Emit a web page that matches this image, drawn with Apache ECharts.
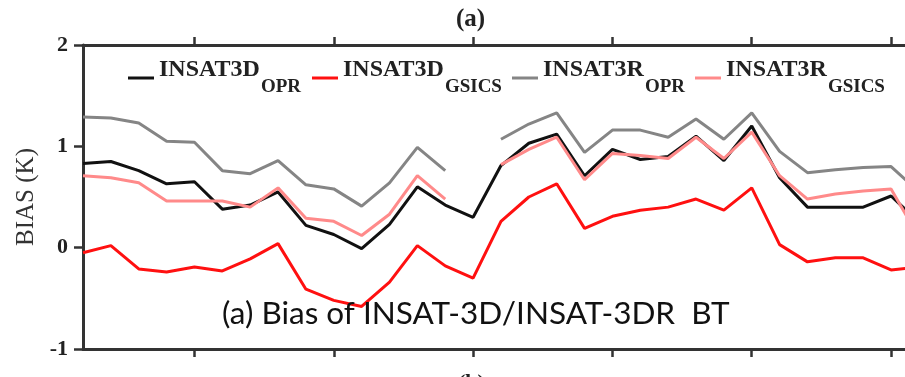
<!DOCTYPE html>
<html><head><meta charset="utf-8">
<script src="https://cdn.jsdelivr.net/npm/echarts@6/dist/echarts.min.js"></script>
<style>html,body{margin:0;padding:0;background:#fff}#c{width:905px;height:377px}</style>
</head><body><div id="c"></div>
<script>
// ---- data ----
const xValues = [1,2,3,4,5,6,7,8,9,10,11,12,13,14,15,16,17,18,19,20,21,22,23,24,25,26,27,28,29,30,31];
const insat3dOpr   = [0.83,0.85,0.76,0.63,0.65,0.38,0.42,0.55,0.22,0.13,-0.01,0.23,0.60,0.42,0.30,0.81,1.03,1.12,0.71,0.97,0.87,0.90,1.10,0.86,1.20,0.69,0.40,0.40,0.40,0.51,0.25];
const insat3dGsics = [-0.05,0.02,-0.21,-0.24,-0.19,-0.23,-0.11,0.04,-0.41,-0.52,-0.58,-0.34,0.02,-0.18,-0.30,0.26,0.50,0.63,0.19,0.31,0.37,0.40,0.48,0.37,0.59,0.03,-0.14,-0.10,-0.10,-0.22,-0.19];
const insat3rOpr   = [1.29,1.28,1.23,1.05,1.04,0.76,0.73,0.86,0.62,0.58,0.41,0.64,0.99,0.76,null,1.07,1.22,1.33,0.94,1.16,1.16,1.09,1.27,1.07,1.33,0.95,0.74,0.77,0.79,0.80,0.55];
const insat3rGsics = [0.71,0.69,0.64,0.46,0.46,0.46,0.40,0.59,0.29,0.26,0.12,0.33,0.71,0.48,null,0.82,0.97,1.09,0.67,0.93,0.91,0.88,1.09,0.88,1.14,0.71,0.48,0.53,0.56,0.58,0.10];
const xTicks = [5,10,15,20,25,30];
const yTicks = [-1,0,1,2];
const seriesNames = ['INSAT3D_OPR','INSAT3D_GSICS','INSAT3R_OPR','INSAT3R_GSICS'];
const legendMain = ['INSAT3D','INSAT3D','INSAT3R','INSAT3R'];
const legendSub = ['OPR','GSICS','OPR','GSICS'];
const seriesColors = ['#111111','#ff1010','#858585','#ff8a8a'];
const seriesValues = [insat3dOpr, insat3dGsics, insat3rOpr, insat3rGsics];
const yAxisName = 'BIAS (K)';
const panelTitle = '(a)';
const nextPanelTitle = '(b)';
const annotation = '(a) Bias of INSAT-3D/INSAT-3DR  BT';

// ---- chart ----
const chart = echarts.init(document.getElementById('c'), null, {renderer:'canvas'});
const serif = 'Liberation Serif';
const axisColor = '#333';
const legendLefts = [128, 312, 512, 695];

const xAxisCommon = {
  type:'value', min:1, max:30.5,
  axisLine:{show:true, onZero:false, lineStyle:{color:axisColor, width:3}},
  axisTick:{show:true, inside:false, length:8, customValues:xTicks, lineStyle:{color:axisColor, width:2.5}},
  axisLabel:{show:false},
  splitLine:{show:false}
};

const option = {
  backgroundColor:'#fff',
  animation:false,
  grid:{left:83, right:0, top:45, bottom:28, containLabel:false},
  xAxis:[
    Object.assign({position:'bottom'}, xAxisCommon),
    Object.assign({position:'top'}, xAxisCommon)
  ],
  yAxis:{
    type:'value', min:yTicks[0], max:yTicks[yTicks.length-1], interval:1,
    name:yAxisName, nameLocation:'middle', nameRotate:90, nameGap:42,
    nameTextStyle:{fontFamily:serif, fontSize:25, color:'#333'},
    axisLine:{show:true, onZero:false, lineStyle:{color:axisColor, width:3}},
    axisTick:{show:true, length:9, lineStyle:{color:axisColor, width:2.5}},
    axisLabel:{fontFamily:serif, fontWeight:'bold', fontSize:22, color:'#222', margin:15},
    splitLine:{show:false}
  },
  legend: seriesNames.map((n,i)=>({
    data:[n], left:legendLefts[i], top:58, padding:0, itemGap:0,
    icon:'rect', itemWidth:26, itemHeight:3,
    selectedMode:false,
    formatter:()=>'{m|'+legendMain[i]+'}{s|'+legendSub[i]+'}',
    textStyle:{
      rich:{
        m:{fontFamily:serif, fontWeight:'bold', fontSize:24, color:'#222', lineHeight:24, padding:[0,0,16,0]},
        s:{fontFamily:serif, fontWeight:'bold', fontSize:19, color:'#222', lineHeight:18, padding:[18,0,0,1]}
      }
    }
  })),
  graphic:[
    {type:'text', left:456, top:7, style:{text:panelTitle, font:'bold 25px "Liberation Serif"', fill:'#222'}},
    {type:'text', left:458, top:372, style:{text:nextPanelTitle, font:'bold 22px "Liberation Serif"', fill:'#222'}},
    {type:'text', left:222, top:298, z:10, style:{text:annotation, font:'31.5px Lato', fill:'#111'}}
  ],
  series: seriesNames.map((n,i)=>({
    name:n, type:'line', xAxisIndex:0, yAxisIndex:0,
    showSymbol:false, symbol:'none', clip:true, connectNulls:false,
    lineStyle:{color:seriesColors[i], width:3},
    itemStyle:{color:seriesColors[i]},
    data:xValues.map((x,j)=>[x, seriesValues[i][j]===null ? '-' : seriesValues[i][j]])
  }))
};
chart.setOption(option);
</script>
</body></html>
